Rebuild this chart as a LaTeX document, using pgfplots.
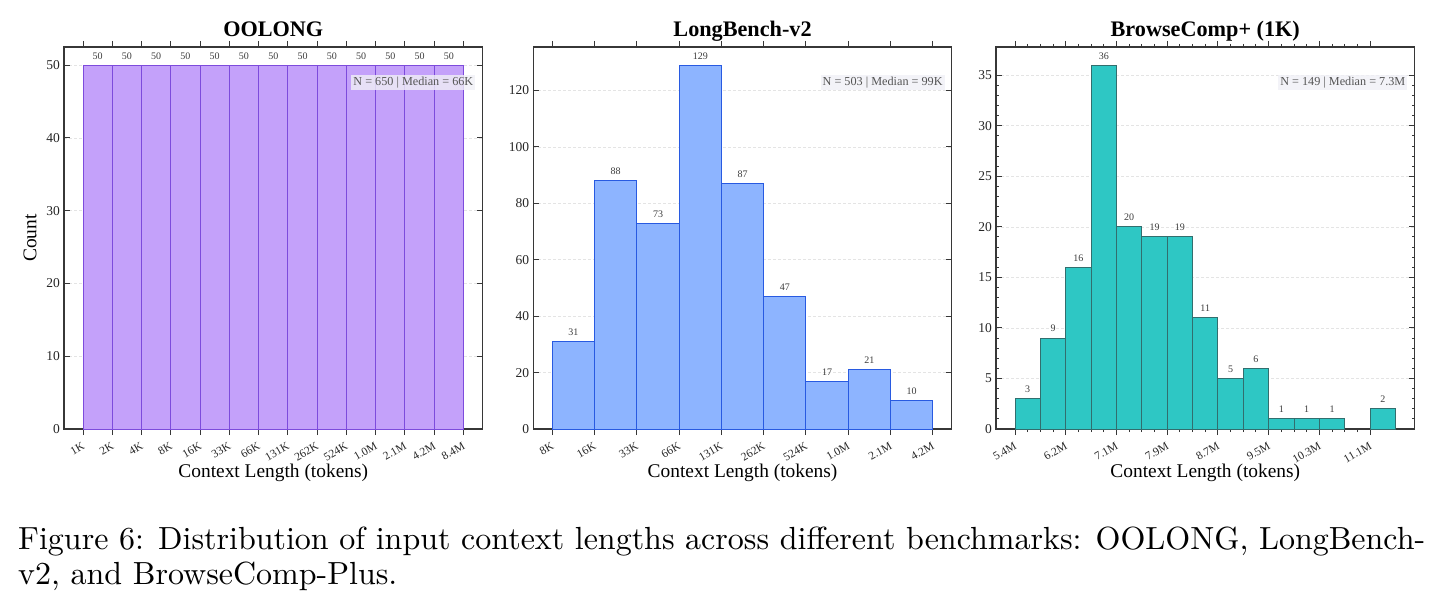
\documentclass[border=0pt]{standalone}
\usepackage{fontspec}
\usepackage{graphicx}
\usepackage{pgfplots}
\pgfplotsset{compat=1.18}
\usepackage{pgfplotstable}
\newfontfamily\chartfont{Liberation Serif}

\definecolor{oolongfill}{RGB}{196,161,250}
\definecolor{oolongedge}{RGB}{125,75,220}
\definecolor{lbfill}{RGB}{141,180,255}
\definecolor{lbedge}{RGB}{40,90,225}
\definecolor{bcfill}{RGB}{46,199,196}
\definecolor{bcedge}{RGB}{50,110,110}
\definecolor{framecol}{RGB}{55,55,55}
\definecolor{gridcol}{RGB}{228,228,228}
\definecolor{statfill}{RGB}{240,240,246}
\definecolor{stattext}{RGB}{85,85,85}
\definecolor{annot}{RGB}{60,60,60}

% bin centre (in bin units) and count
\pgfplotstableread{
x    n
0.5  50
1.5  50
2.5  50
3.5  50
4.5  50
5.5  50
6.5  50
7.5  50
8.5  50
9.5  50
10.5 50
11.5 50
12.5 50
}\oolong
\pgfplotstableread{
x    n
0.5  31
1.5  88
2.5  73
3.5  129
4.5  87
5.5  47
6.5  17
7.5  21
8.5  10
}\longbench
\pgfplotstableread{
x    n
0.5  3
1.5  9
2.5  16
3.5  36
4.5  20
5.5  19
6.5  19
7.5  11
8.5  5
9.5  6
10.5 1
11.5 1
12.5 1
14.5 2
}\browsecomp

\pgfplotsset{
  layers/bars below ticks/.define layer set={axis background,axis grid,main,axis ticks,axis lines,axis tick labels,axis descriptions,axis foreground}{},
  histpanel/.style={
    set layers=bars below ticks,
    scale only axis,
    width=418.5pt, height=382pt,
    anchor=north west,
    ymin=0,
    axis line style={draw=framecol, line width=1.3pt},
    tick align=inside,
    xtick pos=both, ytick pos=both,
    major tick length=6pt, minor tick length=3pt,
    tick style={draw=framecol, line width=1pt},
    ymajorgrids,
    grid style={draw=gridcol, line width=0.7pt, dash pattern=on 3pt off 2pt},
    tick label style={text=black!85},
    yticklabel style={font=\chartfont\fontsize{13.5}{16}\selectfont,
      anchor=east, inner sep=0pt, xshift=-4pt},
    xticklabel style={font=\chartfont\fontsize{11.5}{13}\selectfont,
      yshift=-6.5pt, xshift=-1.5pt, rotate=30, anchor=north east, inner sep=0pt},
    /pgf/number format/assume math mode=true,
    xlabel={Context Length (tokens)},
    label style={font=\chartfont\fontsize{19.4}{23}\selectfont},
    xlabel style={at={(axis description cs:0.5,0)}, anchor=base, yshift=-48pt},
    title style={font=\chartfont\bfseries\fontsize{22.2}{26}\selectfont,
      at={(axis description cs:0.5,1)}, anchor=base, yshift=4pt},
    ybar, bar width=1, bar shift=0pt,
    nodes near coords,
    every node near coord/.append style={font=\chartfont\fontsize{10}{12}\selectfont,
      text=annot, anchor=south, inner sep=0pt, yshift=5.5pt},
  },
}
\tikzset{
  statbox/.style={anchor=north east, fill=statfill, fill opacity=0.8, text opacity=1,
    text=stattext, inner sep=2pt, font=\chartfont\fontsize{12.2}{14}\selectfont,
    xshift=-7pt, yshift=-28pt},
}

\begin{document}
\begin{tikzpicture}

% OOLONG
\begin{axis}[histpanel, at={(64pt,-47pt)},
  title={OOLONG},
  ylabel={Count},
  ylabel style={at={(axis description cs:-0.0812,0.5)}, anchor=center},
  xmin=-0.65, xmax=13.65, ymax=52.5,
  ytick={0,10,...,50},
  xtick={0,...,13},
  xticklabels={1K,2K,4K,8K,16K,33K,66K,131K,262K,524K,1.0M,2.1M,4.2M,8.4M}]
\addplot[fill=oolongfill, draw=oolongedge, line width=1pt] table[x=x, y=n] {\oolong};
\node[statbox] at (rel axis cs:1,1) {N = 650 | Median = 66K};
\end{axis}

% LongBench-v2
\begin{axis}[histpanel, at={(533.3pt,-47pt)},
  title={LongBench-v2},
  xmin=-0.45, xmax=9.45, ymax=135.45,
  ytick={0,20,...,120},
  xtick={0,...,9},
  xticklabels={8K,16K,33K,66K,131K,262K,524K,1.0M,2.1M,4.2M}]
\addplot[fill=lbfill, draw=lbedge, line width=1pt] table[x=x, y=n] {\longbench};
\node[statbox] at (rel axis cs:1,1) {N = 503 | Median = 99K};
\end{axis}

% BrowseComp+ (1K)
\begin{axis}[histpanel, at={(996pt,-47pt)},
  title={BrowseComp+ (1K)},
  xmin=-0.75, xmax=15.75, ymax=37.8,
  ytick={0,5,...,35}, minor y tick num=4,
  xtick={0,2,...,14}, minor x tick num=3,
  xticklabels={5.4M,6.2M,7.1M,7.9M,8.7M,9.5M,10.3M,11.1M}]
\addplot[fill=bcfill, draw=bcedge, line width=1pt] table[x=x, y=n] {\browsecomp};
\node[statbox] at (rel axis cs:1,1) {N = 149 | Median = 7.3M};
\end{axis}

% caption
\node[anchor=base west, inner sep=0pt] at (18pt,-549pt)
  {\scalebox{3.2}{\fontsize{10}{12}\selectfont\hbox to 439.7pt{Figure 6: Distribution of input context lengths across different benchmarks: OOLONG, LongBench-}}};
\node[anchor=base west, inner sep=0pt] at (18pt,-584pt)
  {\scalebox{3.2}{\fontsize{10}{12}\selectfont v2, and BrowseComp-Plus.}};

% page extent
\pgfresetboundingbox
\path[use as bounding box] (0,0) rectangle (1442pt,-610pt);
\end{tikzpicture}
\end{document}
